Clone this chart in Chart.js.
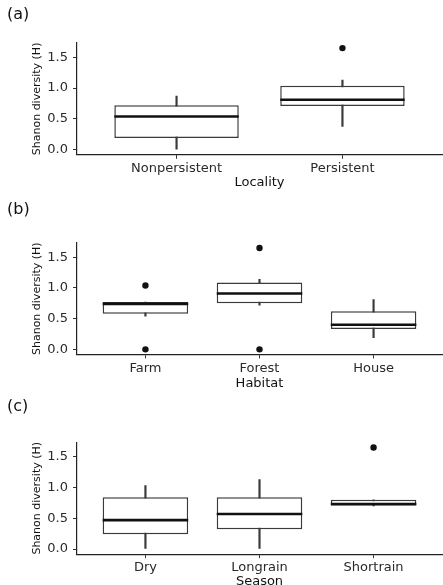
<!DOCTYPE html>
<html>
<head>
<meta charset="utf-8">
<script src="https://cdn.jsdelivr.net/npm/chart.js@4/dist/chart.umd.min.js"></script>
<style>
  html, body { margin: 0; padding: 0; background: #fff; overflow: hidden; width: 443px; height: 585px; }
  canvas { position: absolute; left: 0; }
</style>
</head>
<body>
<canvas id="ca" width="446" height="195" style="top:0px"></canvas>
<canvas id="cb" width="446" height="200" style="top:195px"></canvas>
<canvas id="cc" width="446" height="205" style="top:390px"></canvas>
<script>
// ---- Data ----
const yTicks = [0.0, 0.5, 1.0, 1.5];

const localityCats = ['Nonpersistent', 'Persistent'];
const localityLo  = [0.00, 0.38];
const localityQ1  = [0.19, 0.71];
const localityMed = [0.54, 0.81];
const localityQ3  = [0.72, 1.04];
const localityHi  = [0.87, 1.13];
const localityOut = [[], [1.65]];

const habitatCats = ['Farm', 'Forest', 'House'];
const habitatLo  = [0.54, 0.72, 0.19];
const habitatQ1  = [0.58, 0.75, 0.33];
const habitatMed = [0.74, 0.91, 0.40];
const habitatQ3  = [0.77, 1.09, 0.62];
const habitatHi  = [0.77, 1.14, 0.81];
const habitatOut = [[1.04, 0.00], [1.65, 0.00], []];

const seasonCats = ['Dry', 'Longrain', 'Shortrain'];
const seasonLo  = [0.00, 0.00, 0.70];
const seasonQ1  = [0.24, 0.32, 0.71];
const seasonMed = [0.47, 0.57, 0.73];
const seasonQ3  = [0.84, 0.84, 0.80];
const seasonHi  = [1.03, 1.13, 0.80];
const seasonOut = [[], [], [1.65]];

const yMin = -0.0825, yMax = 1.7325;

const FONT = '"DejaVu Sans", sans-serif';

const medianPlugin = {
  id: 'medianLines',
  afterDatasetsDraw(chart) {
    const med = chart.options.plugins.medianLines.values;
    const meta = chart.getDatasetMeta(1);
    const ys = chart.scales.y;
    const ctx = chart.ctx;
    ctx.save();
    ctx.strokeStyle = '#111';
    ctx.lineWidth = 2.6;
    meta.data.forEach((bar, i) => {
      const y = ys.getPixelForValue(med[i]);
      ctx.beginPath();
      ctx.moveTo(bar.x - bar.width / 2, y);
      ctx.lineTo(bar.x + bar.width / 2, y);
      ctx.stroke();
    });
    ctx.restore();
  }
};

function makePanel(id, label, cats, lo, q1, med, q3, hi, out, xTitle, L) {
  const n = cats.length;
  const xs = cats.map((c, i) => i + 1);
  const whisk = xs.map((x, i) => ({ x: x, y: [lo[i], hi[i]] }));
  const boxes = xs.map((x, i) => ({ x: x, y: [q1[i], q3[i]] }));
  const pts = [];
  out.forEach((arr, i) => arr.forEach(v => pts.push({ x: xs[i], y: v })));
  new Chart(document.getElementById(id), {
    type: 'bar',
    data: {
      datasets: [
        { data: whisk, backgroundColor: '#3a3a3a', borderWidth: 0, barThickness: 1.5, grouped: false, order: 3 },
        { data: boxes, backgroundColor: '#ffffff', borderColor: '#3a3a3a', borderWidth: 1.5, borderSkipped: false,
          barPercentage: 0.75, categoryPercentage: 1, grouped: false, order: 2 },
        { type: 'scatter', data: pts, pointRadius: 3.2, pointBackgroundColor: '#111', pointBorderWidth: 0, order: 1 }
      ]
    },
    options: {
      responsive: false,
      animation: false,
      layout: { padding: { left: 7, right: 0, top: 0, bottom: 0 } },
      plugins: {
        legend: { display: false },
        tooltip: { enabled: false },
        title: { display: true, text: label, align: 'start', color: '#111',
                 font: { family: FONT, size: 16, weight: 'normal' },
                 padding: { top: L.tpt, bottom: L.tpb } },
        medianLines: { values: med }
      },
      scales: {
        x: {
          type: 'linear', min: 0.4, max: n + 0.6, offset: false,
          afterBuildTicks: s => { s.ticks = xs.map(v => ({ value: v })); },
          afterFit: s => { s.height = L.xh; },
          ticks: { callback: (v) => cats[v - 1], color: '#2a2a2a', padding: 2,
                   font: { family: FONT, size: 13 }, autoSkip: false, maxRotation: 0 },
          grid: { offset: false, drawOnChartArea: false, tickLength: 4, color: '#333', lineWidth: 1 },
          border: { display: true, color: '#222', width: 1.2 },
          title: { display: true, text: xTitle, color: '#111', font: { family: FONT, size: 13 },
                   padding: { top: 0, bottom: L.xpb } }
        },
        y: {
          min: yMin, max: yMax,
          afterBuildTicks: s => { s.ticks = yTicks.map(v => ({ value: v })); },
          afterFit: s => { s.width = 70; },
          ticks: { callback: v => v.toFixed(1), color: '#2a2a2a', padding: 5,
                   font: { family: FONT, size: 13 } },
          grid: { drawOnChartArea: false, tickLength: 4, color: '#333', lineWidth: 1 },
          border: { display: true, color: '#222', width: 1.2 },
          title: { display: true, text: 'Shanon diversity (H)', color: '#111',
                   font: { family: FONT, size: 11 }, padding: { top: 23.4, bottom: 0 } }
        }
      }
    },
    plugins: [medianPlugin]
  });
}

makePanel('ca', '(a)', localityCats, localityLo, localityQ1, localityMed, localityQ3, localityHi, localityOut, 'Locality',
  { tpt: 5.4, tpb: 18.4, xh: 40.2, xpb: 4.2 });
makePanel('cb', '(b)', habitatCats, habitatLo, habitatQ1, habitatMed, habitatQ3, habitatHi, habitatOut, 'Habitat',
  { tpt: 5.4, tpb: 23.4, xh: 40.6, xpb: 3.9 });
makePanel('cc', '(c)', seasonCats, seasonLo, seasonQ1, seasonMed, seasonQ3, seasonHi, seasonOut, 'Season',
  { tpt: 7.1, tpb: 26.1, xh: 40.9, xpb: 5.5 });
</script>
</body>
</html>
